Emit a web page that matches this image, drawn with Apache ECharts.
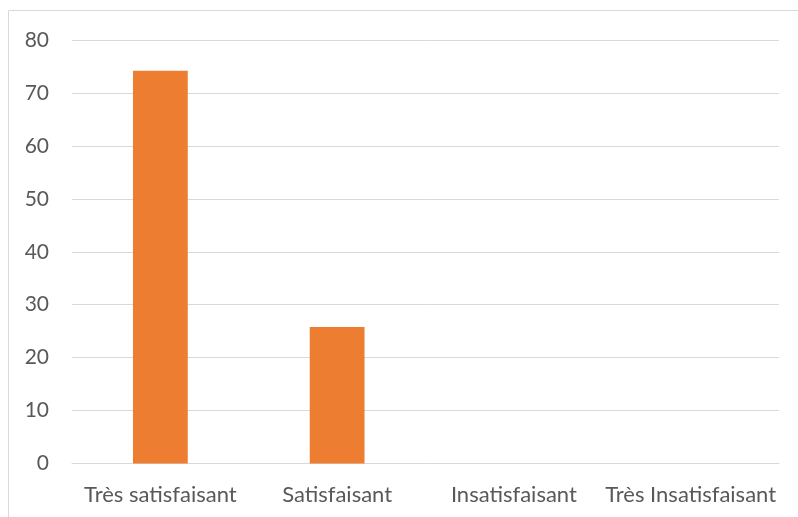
<!DOCTYPE html>
<html>
<head>
<meta charset="utf-8">
<script src="https://cdn.jsdelivr.net/npm/echarts@6/dist/echarts.min.js"></script>
<style>
html,body{margin:0;padding:0;background:#fff;}
#c{width:798px;height:517px;}
</style>
</head>
<body>
<div id="c"></div>
<script>
const categories = ['Très satisfaisant', 'Satisfaisant', 'Insatisfaisant', 'Très Insatisfaisant'];
const values = [74.2, 25.8, 0, 0];
const yTicks = { min: 0, max: 80, interval: 10 };

const chart = echarts.init(document.getElementById('c'), null, { renderer: 'canvas' });
chart.setOption({
  animation: false,
  backgroundColor: '#fff',
  graphic: [{
    type: 'rect',
    shape: { x: 8.5, y: 10.5, width: 800, height: 520 },
    style: { fill: 'none', stroke: '#D9D9D9', lineWidth: 1 },
    silent: true
  }],
  grid: { left: 72, right: 19, top: 40, bottom: 53.5, containLabel: false },
  xAxis: {
    type: 'category',
    data: categories,
    axisLine: { show: true, lineStyle: { color: '#D9D9D9', width: 1 } },
    axisTick: { show: false },
    axisLabel: { color: '#595959', fontFamily: 'Lato', fontSize: 22, margin: 20, interval: 0 }
  },
  yAxis: {
    type: 'value',
    min: yTicks.min, max: yTicks.max, interval: yTicks.interval,
    axisLine: { show: false },
    axisTick: { show: false },
    splitLine: { lineStyle: { color: '#D9D9D9', width: 1 } },
    axisLabel: { color: '#595959', fontFamily: 'Lato', fontSize: 21, margin: 23 }
  },
  series: [{
    type: 'bar',
    data: values,
    barWidth: '31%',
    itemStyle: { color: '#ED7D31' }
  }]
});
</script>
</body>
</html>
